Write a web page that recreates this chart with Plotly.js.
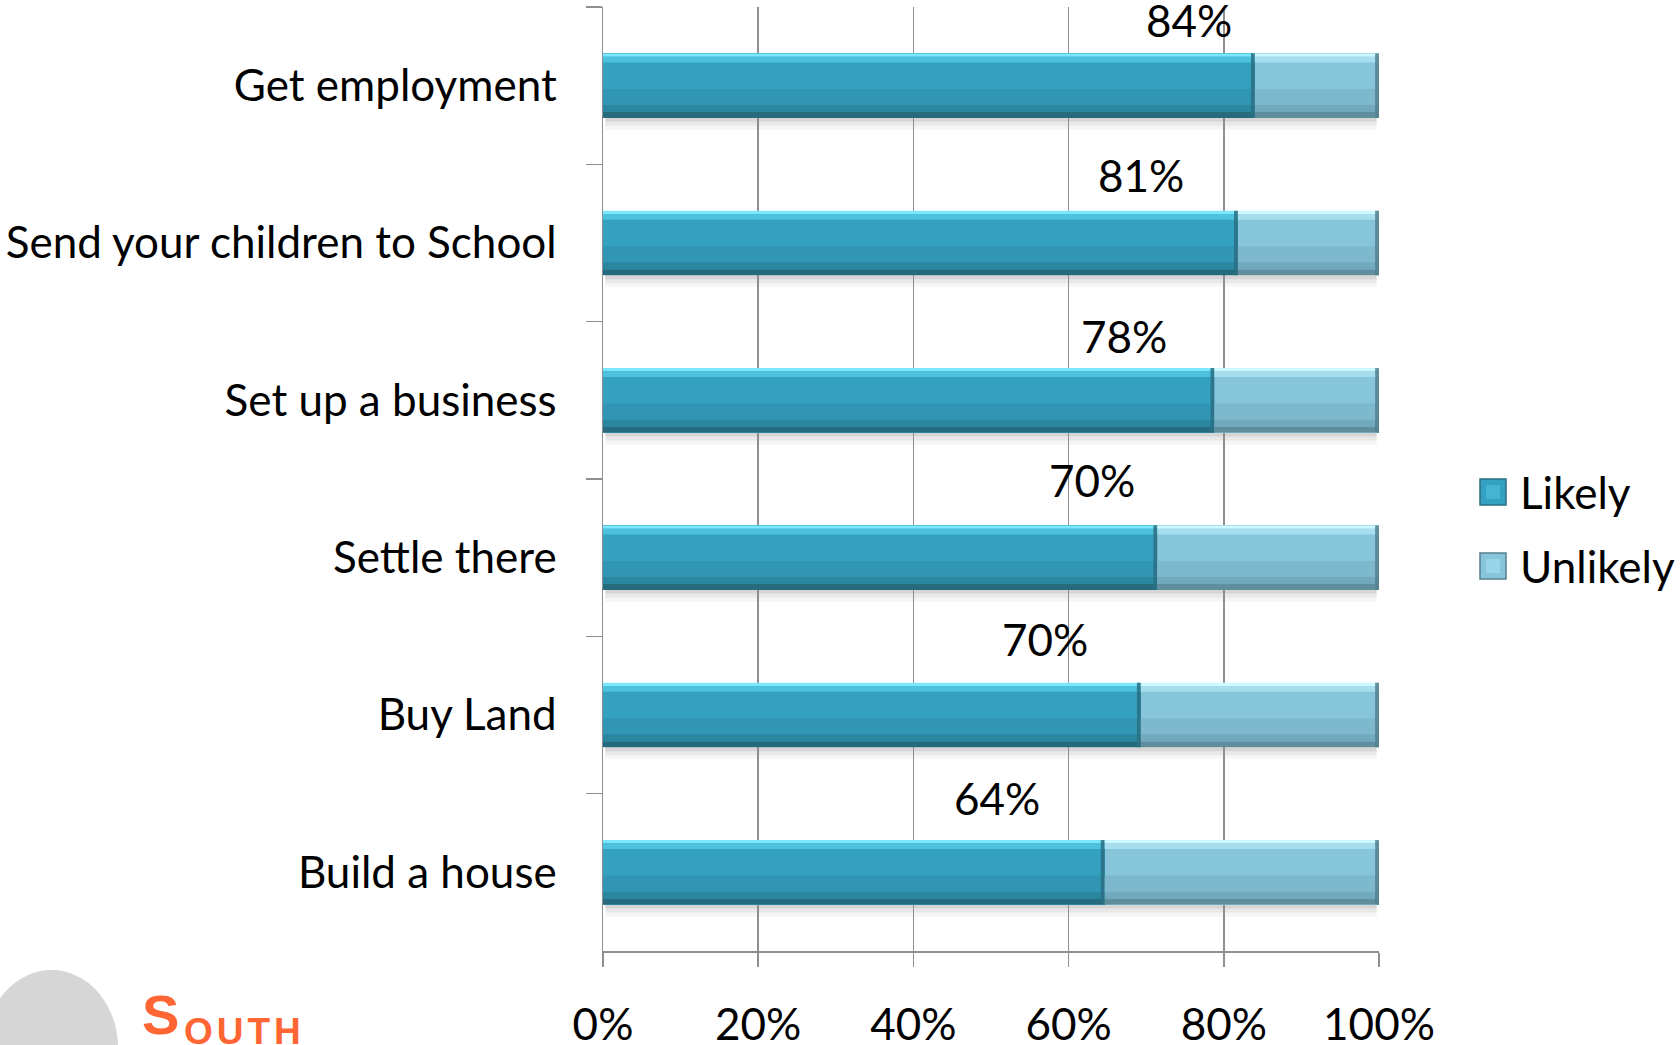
<!DOCTYPE html>
<html><head><meta charset="utf-8">
<script src="https://cdn.plot.ly/plotly-3.0.1.min.js"></script>
<style>html,body{margin:0;padding:0;background:#fff;overflow:hidden;} #chart{width:1680px;height:1045px;}</style>
</head><body><div id="chart"></div>
<script>
// ---- data ----
const categories = ['Get employment', 'Send your children to School', 'Set up a business', 'Settle there', 'Buy Land', 'Build a house'];
const likely = [84, 81, 78, 70, 70, 64];
const unlikely = [16, 18, 21, 28, 31, 35];
const seriesNames = ['Likely', 'Unlikely'];
const xTickVals = [0, 20, 40, 60, 80, 100];
const xTickText = ['0%', '20%', '40%', '60%', '80%', '100%'];

// ---- layout config ----
const W = 1680, H = 1045, L = 603, R = 1379, T = 7, B = 951;
const pw = R - L, ph = B - T;
const px2x = p => (p - L) / pw;
const px2y = p => (B - p) / ph;
const FONT = 'Lato, Carlito, Calibri, sans-serif';
const FS = 44;
const labelDx = [-66, -97, -90, -65, -96, -108];
const labelDy = [66, 68, 64, 78, 76, 74];
const BARGAP = 0.59;
const hw = (1 - BARGAP) / 2;

const totals = likely.map((v, i) => v + unlikely[i]);
const likelyPct = likely.map((v, i) => v / totals[i] * 100);

const palettes = [
  { base: '#35a1c0', strips: [[0, 0.05, '#7ae8fa'], [0.05, 0.14, '#4cc2de'], [0.55, 0.8, '#3196b3'], [0.8, 0.91, '#2b86a0'], [0.91, 1, '#266b7d']], edge: '#2a6f82' },
  { base: '#87c5db', strips: [[0, 0.05, '#cdf8ff'], [0.05, 0.14, '#a6def0'], [0.55, 0.8, '#7eb8cc'], [0.8, 0.91, '#73a9bd'], [0.91, 1, '#5f8e9f']], edge: '#557f8e' }
];

const traces = [
  { type: 'bar', orientation: 'h', name: seriesNames[0], y: categories, x: likely,
    marker: { color: palettes[0].base, line: { width: 0 } }, hoverinfo: 'skip' },
  { type: 'bar', orientation: 'h', name: seriesNames[1], y: categories, x: unlikely,
    marker: { color: palettes[1].base, line: { width: 0 } }, hoverinfo: 'skip' }
];

const shapes = [];
categories.forEach((c, i) => {
  const segs = [[0, likelyPct[i], palettes[0]], [likelyPct[i], 100, palettes[1]]];
  const top = i - hw, bot = i + hw;
  // shadow under bar
  [[0, 0.025, 'rgba(0,0,0,0.16)'], [0.025, 0.05, 'rgba(0,0,0,0.09)'], [0.05, 0.075, 'rgba(0,0,0,0.04)']].forEach(s => {
    shapes.push({ type: 'rect', xref: 'x', yref: 'y', layer: 'below', x0: 0.3, x1: 99.7,
      y0: bot + s[0], y1: bot + s[1], fillcolor: s[2], line: { width: 0 } });
  });
  segs.forEach(([a, b, p]) => {
    p.strips.forEach(s => {
      shapes.push({ type: 'rect', xref: 'x', yref: 'y', layer: 'above', x0: a, x1: b,
        y0: top + s[0] * 2 * hw, y1: top + s[1] * 2 * hw, fillcolor: s[2], line: { width: 0 } });
    });
    shapes.push({ type: 'rect', xref: 'x', yref: 'y', layer: 'above', x0: b - 0.5, x1: b,
      y0: top, y1: bot, fillcolor: p.edge, opacity: 0.85, line: { width: 0 } });
  });
});

// custom legend
const legendRows = [492, 566];
const annotations = [];
seriesNames.forEach((n, k) => {
  const cy = legendRows[k];
  shapes.push({ type: 'rect', xref: 'paper', yref: 'paper', x0: px2x(1480), x1: px2x(1506),
    y0: px2y(cy + 13), y1: px2y(cy - 13), fillcolor: palettes[k].base, line: { color: palettes[k].edge, width: 1.5 } });
  shapes.push({ type: 'rect', xref: 'paper', yref: 'paper', x0: px2x(1486), x1: px2x(1500),
    y0: px2y(cy + 7), y1: px2y(cy - 7), fillcolor: palettes[k].strips[1][2], opacity: 0.6, line: { width: 0 } });
  annotations.push({ xref: 'paper', yref: 'paper', x: px2x(1518), y: px2y(cy), xanchor: 'left', yanchor: 'middle',
    text: n, showarrow: false, font: { family: FONT, size: FS, color: '#000' } });
});

// data labels
categories.forEach((c, i) => {
  annotations.push({ xref: 'x', yref: 'y', x: likelyPct[i], y: c, text: likely[i] + '%', showarrow: false,
    xanchor: 'center', yanchor: 'middle', xshift: labelDx[i], yshift: labelDy[i],
    font: { family: FONT, size: FS, color: '#000' } });
});

// logo
shapes.push({ type: 'circle', xref: 'paper', yref: 'paper', x0: px2x(-15), x1: px2x(118), y0: px2y(1125), y1: px2y(970),
  fillcolor: '#d6d6d6', line: { width: 0 } });
annotations.push({ xref: 'paper', yref: 'paper', x: px2x(140), y: px2y(1048), xanchor: 'left', yanchor: 'bottom',
  text: '<b>S</b>', showarrow: false, font: { family: 'Liberation Sans Narrow, sans-serif', size: 56, color: '#ff6633' } });
annotations.push({ xref: 'paper', yref: 'paper', x: px2x(182), y: px2y(1054), xanchor: 'left', yanchor: 'bottom',
  text: '<b><span style="letter-spacing:4px">OUTH</span></b>', showarrow: false, font: { family: 'Liberation Sans Narrow, sans-serif', size: 37, color: '#ff6633' } });

const layout = {
  width: W, height: H,
  margin: { l: L, r: W - R, t: T, b: H - B, pad: 0 },
  paper_bgcolor: '#fff', plot_bgcolor: '#fff',
  barmode: 'stack', barnorm: 'percent', bargap: BARGAP,
  showlegend: false,
  xaxis: { range: [0, 100], tickvals: xTickVals, ticktext: xTickText, showgrid: true, gridcolor: '#8e8e8e', gridwidth: 1.5,
    zeroline: false, showline: true, linecolor: '#8e8e8e', linewidth: 1.5, ticks: 'outside', ticklen: 14, tickwidth: 1.5,
    tickcolor: '#8e8e8e', ticklabelstandoff: 21, tickfont: { family: FONT, size: FS, color: '#000' }, fixedrange: true },
  yaxis: { type: 'category', categoryorder: 'array', categoryarray: categories, range: [5.5, -0.5],
    showline: true, linecolor: '#8e8e8e', linewidth: 1.5, ticks: 'outside', tickson: 'boundaries', ticklen: 16, tickwidth: 1.5,
    tickcolor: '#8e8e8e', showgrid: false, ticklabelstandoff: 36, tickfont: { family: FONT, size: FS, color: '#000' }, fixedrange: true },
  shapes: shapes,
  annotations: annotations
};

Plotly.newPlot('chart', traces, layout, { staticPlot: true, displayModeBar: false });
</script>
</body></html>
